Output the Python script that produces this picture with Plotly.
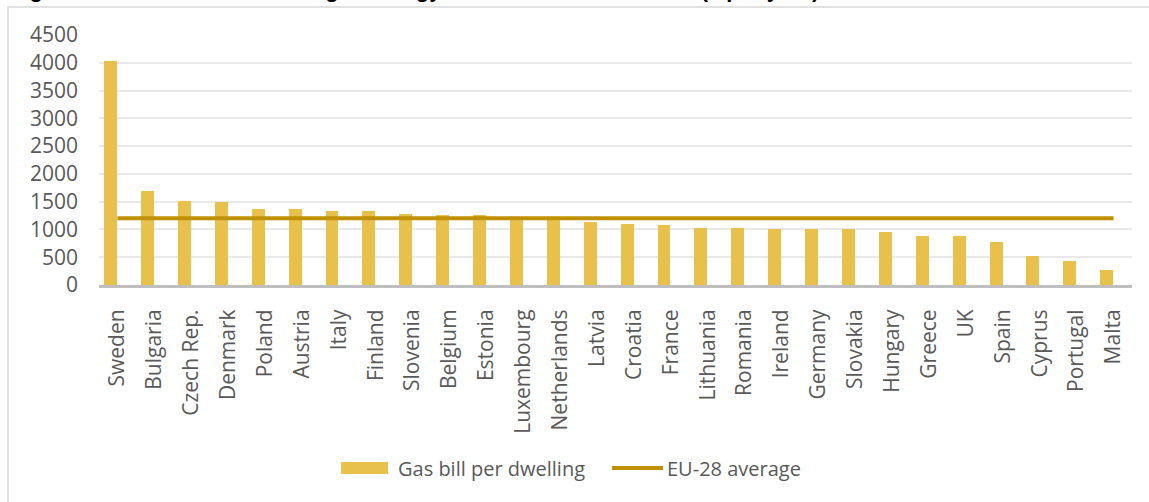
import plotly.graph_objects as go

# Household gas bill per dwelling by member state (EUR per year)
countries = [
    "Sweden", "Bulgaria", "Czech Rep.", "Denmark", "Poland", "Austria", "Italy",
    "Finland", "Slovenia", "Belgium", "Estonia", "Luxembourg", "Netherlands",
    "Latvia", "Croatia", "France", "Lithuania", "Romania", "Ireland", "Germany",
    "Slovakia", "Hungary", "Greece", "UK", "Spain", "Cyprus", "Portugal", "Malta",
]
gas_bill = [
    4040, 1700, 1510, 1490, 1370, 1370, 1330,
    1325, 1280, 1255, 1255, 1215, 1205,
    1140, 1100, 1075, 1030, 1025, 1005, 1005,
    1000, 955, 890, 888, 775, 515, 425, 265,
]
eu_average = 1200
y_ticks = [0, 500, 1000, 1500, 2000, 2500, 3000, 3500, 4000, 4500]

bar_name = "Gas bill per dwelling"
line_name = "EU-28 average"
title_text = "Figure 4: Potential household gas energy bill in EU MS and EU-28 (€ per year)"

BAR_COLOR = "#E8C04C"
LINE_COLOR = "#BF9000"
TEXT_COLOR = "#595959"
FONT = "Open Sans"

fig = go.Figure()
fig.add_trace(go.Bar(
    x=countries, y=gas_bill, name=bar_name,
    marker=dict(color=BAR_COLOR, line=dict(width=0)),
    width=0.35, offset=-0.36, showlegend=False,
))
fig.add_trace(go.Scatter(
    x=countries, y=[eu_average] * len(countries), name=line_name,
    mode="lines", line=dict(color=LINE_COLOR, width=4), showlegend=False,
))

# Legend drawn beneath the axis labels
fig.add_shape(type="rect", xref="paper", yref="paper",
              x0=0.2343, x1=0.2798, y0=-0.756, y1=-0.708,
              fillcolor=BAR_COLOR, line=dict(width=0))
fig.add_annotation(text=bar_name, xref="paper", yref="paper",
                   x=0.2875, y=-0.732, xanchor="left", yanchor="middle",
                   showarrow=False, font=dict(family=FONT, size=20, color=TEXT_COLOR))
fig.add_shape(type="line", xref="paper", yref="paper",
              x0=0.4966, x1=0.5460, y0=-0.732, y1=-0.732,
              line=dict(color=LINE_COLOR, width=4))
fig.add_annotation(text=line_name, xref="paper", yref="paper",
                   x=0.548, y=-0.732, xanchor="left", yanchor="middle",
                   showarrow=False, font=dict(family=FONT, size=20, color=TEXT_COLOR))

# Chart frame
fig.add_shape(type="rect", xref="paper", yref="paper",
              x0=-0.0881, x1=1.2, y0=-1.2, y1=1.112,
              line=dict(color="#D9D9D9", width=1.5), fillcolor="rgba(0,0,0,0)", layer="below")

# Figure caption above the frame
fig.add_annotation(text="<b>" + title_text + "</b>", xref="paper", yref="paper",
                   x=-0.0881, y=1.124, xanchor="left", yanchor="bottom",
                   showarrow=False,
                   font=dict(family="Liberation Sans", size=22, color="#000000"))

fig.update_layout(
    width=1149, height=502, autosize=False,
    margin=dict(l=99, r=17, t=35, b=217),
    paper_bgcolor="white", plot_bgcolor="white",
    font=dict(family=FONT, size=21, color=TEXT_COLOR),
    bargap=0,
)
fig.update_xaxes(
    type="category", range=[-0.5, len(countries) - 0.5],
    tickangle=-90, showgrid=False, showline=True,
    linecolor="#BFBFBF", linewidth=3, ticks="",
    tickfont=dict(family=FONT, size=21, color=TEXT_COLOR),
    ticklabelstandoff=13,
)
fig.update_yaxes(
    range=[0, 4500], tickvals=y_ticks, showgrid=True,
    gridcolor="#E9E9E9", gridwidth=1.5, zeroline=False, showline=False,
    ticks="", tickfont=dict(family=FONT, size=21, color=TEXT_COLOR),
    ticklabelstandoff=20,
)

fig.write_html("out.html")
